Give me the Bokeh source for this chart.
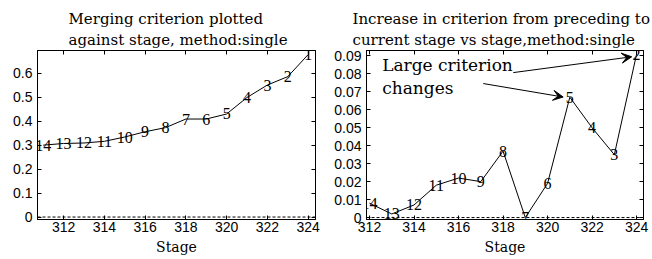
from bokeh.plotting import figure
from bokeh.layouts import row
from bokeh.models import (ColumnDataSource, Span, Label, Arrow, VeeHead, LinearAxis,
                          FixedTicker, CustomJSTickFormatter, Range1d, Title)
from bokeh.core.properties import value
from bokeh.embed import file_html
from bokeh.resources import INLINE

# ---- data ----
stages_left = [311, 312, 313, 314, 315, 316, 317, 318, 319, 320, 321, 322, 323, 324]
criterion = [0.300, 0.307, 0.309, 0.316, 0.334, 0.356, 0.373, 0.409, 0.409, 0.430,
             0.499, 0.551, 0.586, 0.678]
labels_left = ["14", "13", "12", "11", "10", "9", "8", "7", "6", "5", "4", "3", "2", "1"]

stages_right = [312, 313, 314, 315, 316, 317, 318, 319, 320, 321, 322, 323, 324]
increase = [0.008, 0.002, 0.007, 0.018, 0.022, 0.020, 0.037, 0.000, 0.019, 0.067,
            0.050, 0.035, 0.091]
labels_right = ["14", "13", "12", "11", "10", "9", "8", "7", "6", "5", "4", "3", "2"]

x_ticks = [312, 314, 316, 318, 320, 322, 324]
y_ticks_left = [0, 0.1, 0.2, 0.3, 0.4, 0.5, 0.6]
y_ticks_right = [0, 0.01, 0.02, 0.03, 0.04, 0.05, 0.06, 0.07, 0.08, 0.09]

title_left = ["Merging criterion plotted", "against stage, method:single"]
title_right = ["Increase in criterion from preceding to", "current stage vs stage,method:single"]
annot_text = ["Large criterion", "changes"]

SERIF = "DejaVu Serif"
LSERIF = "Liberation Serif"
SANS = "Liberation Sans"

fmt = CustomJSTickFormatter(code="return String(parseFloat(tick.toFixed(4)));")
blank = CustomJSTickFormatter(code="return '';")


def make_fig(width, mbl, mbr, xr, yr, yticks, titles, toffset):
    p = figure(width=width, height=259, x_range=Range1d(*xr), y_range=Range1d(*yr),
               output_backend="svg", toolbar_location=None,
               min_border_left=mbl, min_border_right=mbr,
               min_border_top=50, min_border_bottom=40)
    p.grid.visible = False
    p.outline_line_color = "black"
    p.background_fill_color = "white"
    p.border_fill_color = "white"
    for ax, tk in ((p.xaxis[0], x_ticks), (p.yaxis[0], yticks)):
        ax.ticker = FixedTicker(ticks=tk)
        ax.formatter = fmt
        ax.major_tick_in = 4
        ax.major_tick_out = 0
        ax.minor_tick_line_color = None
        ax.axis_line_color = "black"
        ax.major_label_text_font = SANS
        ax.major_label_text_font_size = "14px"
        ax.major_label_text_color = "black"
    p.xaxis.major_label_standoff = 2
    p.yaxis.major_label_standoff = 5
    p.xaxis.axis_label = "Stage"
    p.xaxis.axis_label_text_font = SERIF
    p.xaxis.axis_label_text_font_size = "14px"
    p.xaxis.axis_label_text_font_style = "normal"
    p.xaxis.axis_label_text_color = "black"
    p.xaxis.axis_label_standoff = 4
    for loc, tk in (("above", x_ticks), ("right", yticks)):
        ax = LinearAxis(ticker=FixedTicker(ticks=tk), formatter=blank,
                        major_label_text_font_size="0px", major_label_standoff=0,
                        major_tick_in=4, major_tick_out=0,
                        minor_tick_line_color=None, axis_line_color="black")
        p.add_layout(ax, loc)
    # second title line first (closest to the plot), then the first line
    p.add_layout(Title(text=titles[1], align="left", offset=toffset, standoff=3,
                       text_font=SERIF, text_font_size="15px", text_font_style="normal",
                       text_color="black"), "above")
    p.add_layout(Title(text=titles[0], align="left", offset=toffset, standoff=0,
                       text_font=SERIF, text_font_size="15px", text_font_style="normal",
                       text_color="black"), "above")
    p.add_layout(Span(location=0, dimension="width", line_color="black",
                      line_width=1, line_dash="3 2"))
    return p


# ---- left figure ----
p1 = make_fig(330, 37, 15, (310.72, 324.36), (-0.0103, 0.695), y_ticks_left, title_left, 31)
src1 = ColumnDataSource(dict(x=stages_left, y=criterion, t=labels_left))
p1.line("x", "y", source=src1, line_color="black", line_width=1)
p1.text("x", "y", text="t", source=src1, text_align="center", text_baseline="middle",
        text_font=value(LSERIF), text_font_size="16px", text_color="black")

# ---- right figure ----
p2 = make_fig(322, 36, 9, (311.865, 324.31), (-0.00108, 0.093), y_ticks_right, title_right, -14)
src2 = ColumnDataSource(dict(x=stages_right, y=increase, t=labels_right))
p2.line("x", "y", source=src2, line_color="black", line_width=1)
p2.text("x", "y", text="t", source=src2, text_align="center", text_baseline="middle",
        text_font=value(LSERIF), text_font_size="16px", text_color="black")
p2.add_layout(Label(x=312.57, y=0.0791, text=annot_text[0], text_font=SERIF,
                    text_font_size="17px", text_color="black"))
p2.add_layout(Label(x=312.57, y=0.0668, text=annot_text[1], text_font=SERIF,
                    text_font_size="17px", text_color="black"))
p2.add_layout(Arrow(end=VeeHead(size=10, fill_color="black", line_color="black"),
                    x_start=318.46, y_start=0.0807, x_end=323.78, y_end=0.0895,
                    line_color="black", line_width=1))
p2.add_layout(Arrow(end=VeeHead(size=10, fill_color="black", line_color="black"),
                    x_start=317.11, y_start=0.0746, x_end=320.70, y_end=0.0671,
                    line_color="black", line_width=1))

layout = row(p1, p2)
open("out.html", "w").write(file_html(layout, INLINE))
